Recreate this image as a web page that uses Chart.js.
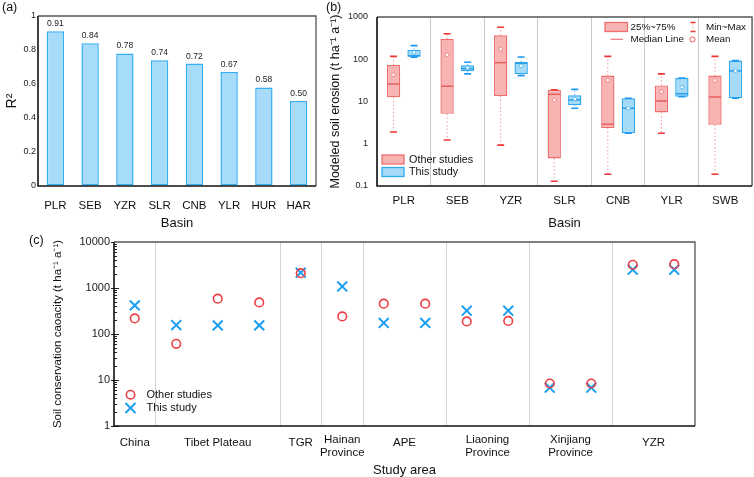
<!DOCTYPE html>
<html><head><meta charset="utf-8">
<script src="https://cdn.jsdelivr.net/npm/chart.js@4.4.1/dist/chart.umd.min.js"></script>
<style>
html,body{margin:0;padding:0;background:#fff;}
body{width:754px;height:477px;position:relative;overflow:hidden;}
canvas{position:absolute;display:block;}
</style></head><body>
<canvas id="ca" width="322" height="230" style="left:0;top:0"></canvas>
<canvas id="cb" width="432" height="230" style="left:322px;top:0"></canvas>
<canvas id="cc" width="754" height="247" style="left:0;top:230px"></canvas>
<script>
// ---------- Panel (a) data ----------
const r2Basins = ['PLR','SEB','YZR','SLR','CNB','YLR','HUR','HAR'];
const r2Values = [0.91,0.84,0.78,0.74,0.72,0.67,0.58,0.50];
const r2Ticks = [0,0.2,0.4,0.6,0.8,1];

// ---------- Panel (b) data ----------
const erosionBasins = ['PLR','SEB','YZR','SLR','CNB','YLR','SWB'];
const otherMin  = [1.9, 1.23, 0.93, 0.13, 0.19, 1.77, 0.19];
const otherQ1   = [12.6, 5.1, 13.5, 0.45, 2.36, 5.5, 2.8];
const otherMed  = [26, 23, 83, 14.8, 2.9, 10.3, 12.8];
const otherQ3   = [73, 301, 368, 18.8, 41, 24, 41];
const otherMax  = [117, 403, 570, 19, 117, 45, 117];
const otherMean = [43, 128, 175, 10.9, 32, 17, 31.5];
const thisMin   = [112, 45, 41, 6.9, 1.77, 13, 11.9];
const thisQ1    = [115, 52, 44, 8.1, 1.77, 13, 11.9];
const thisMed   = [121, 60, 80, 10.9, 6.9, 15.3, 53];
const thisQ3    = [168, 72, 86, 14, 11.9, 36, 93];
const thisMax   = [210, 85, 113, 19.4, 11.9, 36, 93];
const thisMean  = [146, 63, 70, 11.5, 6.9, 21.7, 53];
const erosionTicks = [0.1,1,10,100,1000];

// ---------- Panel (c) data ----------
const studyAreas = ['China','Tibet Plateau','TGR',['Hainan','Province'],'APE',['Liaoning','Province'],['Xinjiang','Province'],'YZR'];
const areaCounts = [1,3,1,1,2,2,2,2];
const otherConservation = [218, 61, 585, 486, 2100, 241, 456, 456, 188, 192, 8.4, 8.4, 3200, 3300];
const thisConservation  = [419, 156, 154, 154, 2150, 1084, 174, 174, 321, 321, 6.8, 6.8, 2500, 2500];
const conservationTicks = [1,10,100,1000,10000];

const FONT = '"Liberation Sans", Arial, Helvetica, sans-serif';
Chart.defaults.font.family = FONT;
Chart.defaults.color = '#222';

function framePlugin(){
  return {id:'frame', afterDraw(chart){
    const {ctx, chartArea:a} = chart;
    ctx.save();
    ctx.lineWidth = 1.3; ctx.strokeStyle = '#555';
    ctx.beginPath(); ctx.moveTo(a.left, a.top); ctx.lineTo(a.right, a.top); ctx.lineTo(a.right, a.bottom); ctx.stroke();
    ctx.lineWidth = 1.6; ctx.strokeStyle = '#111';
    ctx.beginPath(); ctx.moveTo(a.left, a.top); ctx.lineTo(a.left, a.bottom); ctx.lineTo(a.right, a.bottom); ctx.stroke();
    ctx.restore();
  }};
}
function letterPlugin(txt, x, y){
  return {id:'letter', afterDraw(chart){
    const ctx = chart.ctx; ctx.save();
    ctx.font = '12.5px ' + FONT; ctx.fillStyle = '#111'; ctx.textBaseline = 'middle'; ctx.textAlign = 'left';
    ctx.fillText(txt, x, y); ctx.restore();
  }};
}

// ================= Panel (a) =================
new Chart(document.getElementById('ca'), {
  type:'bar',
  data:{labels:r2Basins, datasets:[{data:r2Values, backgroundColor:'#a6dbfa', borderColor:'#35aef4', borderWidth:1.5, borderSkipped:false, categoryPercentage:1, barPercentage:0.5}]},
  options:{responsive:false, animation:false, events:[],
    layout:{padding:{top:16,right:6,left:0,bottom:0}},
    plugins:{legend:{display:false}, tooltip:{enabled:false}},
    scales:{
      x:{grid:{display:false}, border:{display:false},
         ticks:{font:{size:11.5}, color:'#111', padding:5, maxRotation:0, autoSkip:false},
         title:{display:true, text:'Basin', font:{size:13, lineHeight:1}, color:'#111', padding:{top:0,bottom:0}},
         afterFit:s=>{s.height=44;}},
      y:{min:0, max:1, afterBuildTicks:s=>{s.ticks=r2Ticks.map(v=>({value:v}));},
         grid:{drawOnChartArea:false, drawTicks:false}, border:{display:false},
         ticks:{font:{size:9}, color:'#222', padding:2, callback:v=>String(v)},
         title:{display:true, text:'R²', font:{size:14, lineHeight:1}, color:'#111', padding:{top:5,bottom:0}},
         afterFit:s=>{s.width=38;}}
    }},
  plugins:[{id:'vals', afterDatasetsDraw(chart){
      const ctx = chart.ctx, meta = chart.getDatasetMeta(0);
      ctx.save(); ctx.font = '8.5px ' + FONT; ctx.fillStyle = '#222'; ctx.textAlign='center'; ctx.textBaseline='bottom';
      meta.data.forEach((b,i)=>{ ctx.fillText(r2Values[i].toFixed(2), b.x, b.y - 3); });
      ctx.restore();
    }}, framePlugin(), letterPlugin('(a)', 2, 8)]
});

// ================= Panel (b) =================
const boxPlugin = {id:'boxes', afterDatasetsDraw(chart){
  const ctx = chart.ctx, ys = chart.scales.y;
  chart.data.datasets.forEach((ds,di)=>{
    const meta = chart.getDatasetMeta(di);
    meta.data.forEach((bar,i)=>{
      const x = bar.x, w = bar.width;
      const pMin = ys.getPixelForValue(ds.stats.min[i]), pMax = ys.getPixelForValue(ds.stats.max[i]);
      const pQ1 = ys.getPixelForValue(ds.data[i][0]), pQ3 = ys.getPixelForValue(ds.data[i][1]);
      const pMed = ys.getPixelForValue(ds.stats.med[i]), pMean = ys.getPixelForValue(ds.stats.mean[i]);
      ctx.save();
      ctx.strokeStyle = ds.whiskerColor; ctx.lineWidth = 1; ctx.setLineDash([1.3,2.4]);
      ctx.beginPath(); ctx.moveTo(x,pQ1); ctx.lineTo(x,pMin); ctx.moveTo(x,pQ3); ctx.lineTo(x,pMax); ctx.stroke();
      ctx.setLineDash([]);
      ctx.strokeStyle = ds.capColor; ctx.lineWidth = 1.6;
      ctx.beginPath(); ctx.moveTo(x-3.5,pMin); ctx.lineTo(x+3.5,pMin); ctx.moveTo(x-3.5,pMax); ctx.lineTo(x+3.5,pMax); ctx.stroke();
      ctx.strokeStyle = ds.medianColor; ctx.lineWidth = 1.5;
      ctx.beginPath(); ctx.moveTo(x-w/2+0.5,pMed); ctx.lineTo(x+w/2-0.5,pMed); ctx.stroke();
      ctx.fillStyle = '#fff'; ctx.strokeStyle = ds.borderColor; ctx.lineWidth = 0.7;
      ctx.beginPath(); ctx.arc(x,pMean,1.8,0,2*Math.PI); ctx.fill(); ctx.stroke();
      ctx.restore();
    });
  });
}};
const bLegend = {id:'bleg', afterDraw(chart){
  const ctx = chart.ctx; ctx.save();
  ctx.textBaseline='middle'; ctx.textAlign='left'; ctx.fillStyle='#111';
  // bottom-left legend
  ctx.lineWidth = 1.3;
  ctx.fillStyle='#f8b3b3'; ctx.strokeStyle='#ee6e6e'; ctx.fillRect(60,155,22,9); ctx.strokeRect(60,155,22,9);
  ctx.fillStyle='#a6dbf8'; ctx.strokeStyle='#2fa9f0'; ctx.fillRect(60,167.5,22,9); ctx.strokeRect(60,167.5,22,9);
  ctx.fillStyle='#111'; ctx.font='10.8px '+FONT;
  ctx.fillText('Other studies', 87, 160); ctx.fillText('This study', 87, 172.5);
  // top-right legend
  ctx.fillStyle='#f8b3b3'; ctx.strokeStyle='#ee6e6e'; ctx.fillRect(283,22.5,22.5,9); ctx.strokeRect(283,22.5,22.5,9);
  ctx.strokeStyle='#ee7a7a'; ctx.lineWidth=1.2; ctx.beginPath(); ctx.moveTo(288.5,39.3); ctx.lineTo(301,39.3); ctx.stroke();
  ctx.strokeStyle='#f03535'; ctx.lineWidth=1.5; ctx.beginPath(); ctx.moveTo(368.5,22.5); ctx.lineTo(373.5,22.5); ctx.moveTo(368.5,31.5); ctx.lineTo(373.5,31.5); ctx.stroke();
  ctx.strokeStyle='#f28b8b'; ctx.lineWidth=1; ctx.setLineDash([1.2,2]); ctx.beginPath(); ctx.moveTo(371,23.5); ctx.lineTo(371,30.5); ctx.stroke(); ctx.setLineDash([]);
  ctx.fillStyle='#fff'; ctx.strokeStyle='#f05555'; ctx.lineWidth=1; ctx.beginPath(); ctx.arc(370.5,39.5,2.6,0,2*Math.PI); ctx.fill(); ctx.stroke();
  ctx.fillStyle='#111'; ctx.font='9.8px '+FONT;
  ctx.fillText('25%~75%', 308.5, 27.2); ctx.fillText('Median Line', 308.5, 39.6);
  ctx.fillText('Min~Max', 384, 27.2); ctx.fillText('Mean', 384, 39.6);
  ctx.restore();
}};
new Chart(document.getElementById('cb'), {
  type:'bar',
  data:{labels:erosionBasins, datasets:[
    {label:'Other studies', data:otherQ1.map((v,i)=>[v,otherQ3[i]]), stats:{min:otherMin,max:otherMax,med:otherMed,mean:otherMean},
     backgroundColor:'#f8b3b3', borderColor:'#ee6e6e', medianColor:'#e65f5f', capColor:'#f03535', whiskerColor:'#f28b8b',
     borderWidth:1.4, borderSkipped:false, categoryPercentage:0.765, barPercentage:0.65},
    {label:'This study', data:thisQ1.map((v,i)=>[v,thisQ3[i]]), stats:{min:thisMin,max:thisMax,med:thisMed,mean:thisMean},
     backgroundColor:'#a6dbf8', borderColor:'#2fa9f0', medianColor:'#2a9de6', capColor:'#1f98ef', whiskerColor:'#55b8f2',
     borderWidth:1.4, borderSkipped:false, categoryPercentage:0.765, barPercentage:0.65}
  ]},
  options:{responsive:false, animation:false, events:[],
    layout:{padding:{top:17,right:2,left:0,bottom:0}},
    plugins:{legend:{display:false}, tooltip:{enabled:false}},
    scales:{
      x:{grid:{display:true, offset:true, color:'#c9c9c9', lineWidth:1, drawTicks:false}, border:{display:false},
         ticks:{font:{size:11.5}, color:'#111', padding:8, maxRotation:0, autoSkip:false},
         title:{display:true, text:'Basin', font:{size:13, lineHeight:1}, color:'#111', padding:{top:0,bottom:0}},
         afterFit:s=>{s.height=44;}},
      y:{type:'logarithmic', min:0.1, max:1000, afterBuildTicks:s=>{s.ticks=erosionTicks.map(v=>({value:v}));},
         grid:{drawOnChartArea:false, drawTicks:false}, border:{display:false},
         ticks:{font:{size:9}, color:'#222', padding:9, callback:v=>String(v)},
         title:{display:true, text:'Modeled soil erosion (t ha⁻¹ a⁻¹)', font:{size:12.5, lineHeight:1}, color:'#111', padding:{top:7,bottom:0}},
         afterFit:s=>{s.width=55;}}
    }},
  plugins:[boxPlugin, bLegend, framePlugin(), letterPlugin('(b)', 4, 8)]
});

// ================= Panel (c) =================
const slotStart = []; const separators = [];
areaCounts.reduce((acc,n,i)=>{ slotStart.push(acc); if(i<areaCounts.length-1) separators.push(acc+n-0.5); return acc+n; },0);
const areaCenters = areaCounts.map((n,i)=>slotStart[i]+(n-1)/2);
const nSlots = otherConservation.length;

const cExtras = {id:'cextra', afterDraw(chart){
  const ctx = chart.ctx, xs = chart.scales.x, ys = chart.scales.y, a = chart.chartArea;
  ctx.save();
  // minor / major ticks inside the y axis
  ctx.strokeStyle='#222'; ctx.lineWidth=1;
  ctx.beginPath();
  for(let e=0;e<4;e++){ for(let m=1;m<10;m++){ const v=m*Math.pow(10,e); const y=Math.round(ys.getPixelForValue(v))+0.5; ctx.moveTo(a.left, y); ctx.lineTo(a.left+(m===1?5:3), y);} }
  ctx.stroke();
  // group labels
  ctx.fillStyle='#111'; ctx.font='11.5px '+FONT; ctx.textAlign='center'; ctx.textBaseline='middle';
  studyAreas.forEach((lab,i)=>{
    const x = xs.getPixelForValue(areaCenters[i]);
    if(Array.isArray(lab)){ ctx.fillText(lab[0], x, 209.5); ctx.fillText(lab[1], x, 223); }
    else ctx.fillText(lab, x, 213);
  });
  // legend
  ctx.lineWidth=1.6; ctx.strokeStyle='#ee3e45';
  ctx.beginPath(); ctx.arc(130.5,164.7,4.2,0,2*Math.PI); ctx.stroke();
  ctx.strokeStyle='#1a9ff0'; ctx.lineWidth=2;
  ctx.beginPath(); ctx.moveTo(125.5,173); ctx.lineTo(135.5,183); ctx.moveTo(135.5,173); ctx.lineTo(125.5,183); ctx.stroke();
  ctx.fillStyle='#111'; ctx.font='11px '+FONT; ctx.textAlign='left';
  ctx.fillText('Other studies', 146.5, 164.7); ctx.fillText('This study', 146.5, 178.2);
  ctx.restore();
}};
new Chart(document.getElementById('cc'), {
  type:'scatter',
  data:{datasets:[
    {label:'Other studies', data:otherConservation.map((v,i)=>({x:i,y:v})), pointStyle:'circle', pointRadius:4.3,
     borderColor:'#ee3e45', backgroundColor:'rgba(0,0,0,0)', pointBorderWidth:1.6},
    {label:'This study', data:thisConservation.map((v,i)=>({x:i,y:v})), pointStyle:'crossRot', pointRadius:7,
     borderColor:'#1a9ff0', backgroundColor:'#1a9ff0', pointBorderWidth:2}
  ]},
  options:{responsive:false, animation:false, events:[],
    layout:{padding:{top:12,right:59,left:48,bottom:0}},
    plugins:{legend:{display:false}, tooltip:{enabled:false}},
    scales:{
      x:{type:'linear', min:-0.5, max:nSlots-0.5, afterBuildTicks:s=>{s.ticks=separators.map(v=>({value:v}));},
         grid:{display:true, color:'#d4d4d4', lineWidth:1, drawTicks:false}, border:{display:false},
         ticks:{display:false},
         title:{display:true, text:'Study area', font:{size:13, lineHeight:1}, color:'#111', padding:{top:0,bottom:0}},
         afterFit:s=>{s.height=51;}},
      y:{type:'logarithmic', min:1, max:10000, afterBuildTicks:s=>{s.ticks=conservationTicks.map(v=>({value:v}));},
         grid:{drawOnChartArea:false, drawTicks:true, tickLength:3, tickColor:'#222'}, border:{display:false},
         ticks:{font:{size:11}, color:'#222', padding:1, callback:v=>String(v)},
         title:{display:true, text:'Soil conservation caoacity (t ha⁻¹ a⁻¹)', font:{size:11.5, lineHeight:1}, color:'#111', padding:{top:4,bottom:0}},
         afterFit:s=>{s.width=66;}}
    }},
  plugins:[cExtras, framePlugin(), letterPlugin('(c)', 29, 11)]
});
</script>
</body></html>
